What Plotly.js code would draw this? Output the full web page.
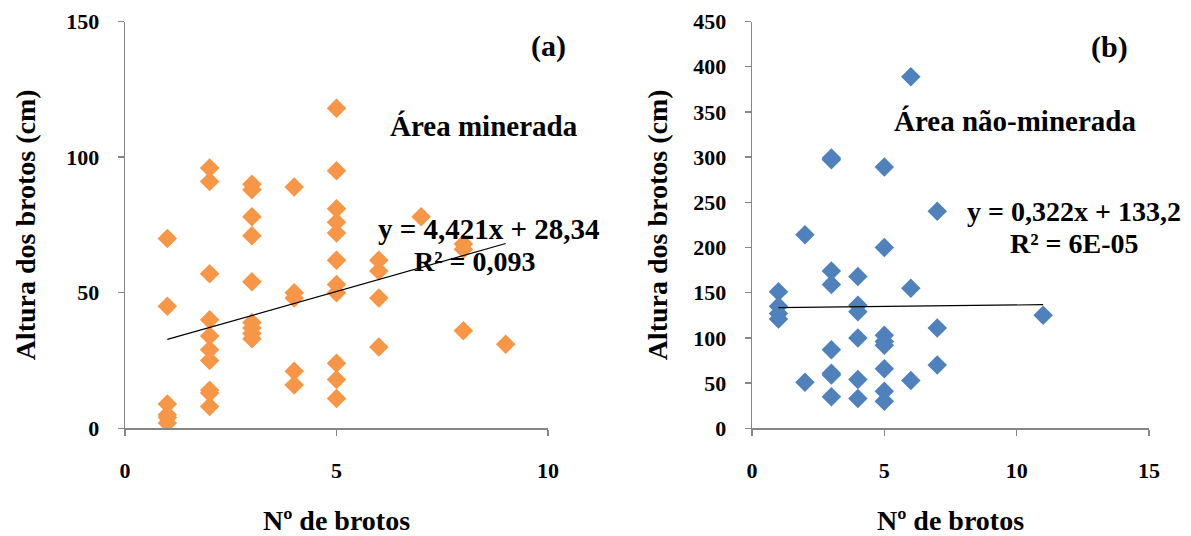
<!DOCTYPE html>
<html>
<head>
<meta charset="utf-8">
<script src="https://cdn.plot.ly/plotly-3.0.1.min.js"></script>
<style>html,body{margin:0;padding:0;background:#fff;}#chart{width:1191px;height:536px;}</style>
</head>
<body>
<div id="chart"></div>
<script>
// Panel (a) – Área minerada
const xA = [1,1,1,1,1,1,
  2,2,2,2,2,2,2,2,2,2,
  3,3,3,3,3,3,3,3,3,
  4,4,4,4,4,
  5,5,5,5,5,5,5,5,5,5,5,
  6,6,6,6,
  7,
  8,8,8,
  9];
const yA = [70,45,9,5,4,2,
  96,91,57,40,34,29,25,14,13,8,
  90,88,78,71,54,39,37,35,33,
  89,50,48,21,16,
  118,95,81,76,72,62,53,50,24,18,11,
  62,58,48,30,
  78,
  68,66,36,
  31];
const slopeA = 4.421, interceptA = 28.34;

// Panel (b) – Área não-minerada
const xB = [1,1,1,1,
  2,2,
  3,3,3,3,3,3,3,3,
  4,4,4,4,4,4,
  5,5,5,5,5,5,5,5,
  6,6,6,
  7,7,7,
  11];
const yB = [151,135,127,121,
  214,51,
  299,297,174,159,87,61,59,35,
  168,136,129,100,54,33,
  289,200,103,96,92,66,41,30,
  389,155,53,
  240,111,70,
  125];
const slopeB = 0.322, interceptB = 133.2;

const labelsA = {panel:'(a)', area:'Área minerada', eq:'y = 4,421x + 28,34', r2:'R² = 0,093'};
const labelsB = {panel:'(b)', area:'Área não-minerada', eq:'y = 0,322x + 133,2', r2:'R² = 6E-05'};
const yTitle = 'Altura dos brotos (cm)';
const xTitle = 'Nº de brotos';

function trend(xs, m, b){
  const lo = Math.min(...xs), hi = Math.max(...xs);
  return {x:[lo,hi], y:[m*lo+b, m*hi+b]};
}
const tA = trend(xA, slopeA, interceptA);
const tB = trend(xB, slopeB, interceptB);

const font = "'Liberation Serif', 'Times New Roman', serif";
const mk = c => ({symbol:'diamond', size:15, color:c, line:{width:0}});

const traces = [
  {x:xA, y:yA, type:'scatter', mode:'markers', marker:mk('#F79646'), xaxis:'x', yaxis:'y', hoverinfo:'x+y'},
  {x:tA.x, y:tA.y, type:'scatter', mode:'lines', line:{color:'#000', width:1.2}, xaxis:'x', yaxis:'y'},
  {x:xB, y:yB, type:'scatter', mode:'markers', marker:mk('#4F81BD'), xaxis:'x2', yaxis:'y2', hoverinfo:'x+y'},
  {x:tB.x, y:tB.y, type:'scatter', mode:'lines', line:{color:'#000', width:1.2}, xaxis:'x2', yaxis:'y2'}
];

const f = (s) => ({family:font, size:s, color:'#000', weight:'bold'});
const tickFont = f(22);
const titleFont = f(28);
const baseAxis = {
  showgrid:false, zeroline:false, showline:true, linecolor:'#868686', linewidth:1.3,
  ticks:'outside', ticklen:6, tickcolor:'#868686', tickwidth:1.3,
  tickfont:tickFont, fixedrange:true
};
const yDom = [(536-428.3)/536, (536-21.5)/536];

const layout = {
  width:1191, height:536,
  margin:{l:0, r:0, t:0, b:0},
  paper_bgcolor:'#fff', plot_bgcolor:'rgba(0,0,0,0)',
  showlegend:false,
  font:{family:font, color:'#000'},
  xaxis: Object.assign({}, baseAxis, {domain:[125/1191, 548/1191], range:[0,10], dtick:5, tick0:0, anchor:'y',
    ticklabelstandoff:16, title:{text:xTitle, font:titleFont, standoff:35}}),
  yaxis: Object.assign({}, baseAxis, {domain:yDom, range:[0,150], dtick:50, tick0:0, anchor:'x',
    ticklabelstandoff:14, title:{text:yTitle, font:titleFont, standoff:22}}),
  xaxis2: Object.assign({}, baseAxis, {domain:[752/1191, 1149/1191], range:[0,15], dtick:5, tick0:0, anchor:'y2',
    ticklabelstandoff:16, title:{text:xTitle, font:titleFont, standoff:35}}),
  yaxis2: Object.assign({}, baseAxis, {domain:yDom, range:[0,450], dtick:50, tick0:0, anchor:'x2',
    ticklabelstandoff:14, title:{text:yTitle, font:titleFont, standoff:17}}),
  annotations:[
    {xref:'x', yref:'y', x:10, y:141, text:labelsA.panel, showarrow:false, xanchor:'center', yanchor:'middle', font:f(30)},
    {xref:'x', yref:'y', x:8.48, y:111.3, text:labelsA.area, showarrow:false, xanchor:'center', yanchor:'middle', font:f(29)},
    {xref:'x', yref:'y', x:8.6, y:73.4, text:labelsA.eq, showarrow:false, xanchor:'center', yanchor:'middle', font:f(29)},
    {xref:'x', yref:'y', x:8.27, y:61.5, text:labelsA.r2, showarrow:false, xanchor:'center', yanchor:'middle', font:f(28)},
    {xref:'x2', yref:'y2', x:13.52, y:422, text:labelsB.panel, showarrow:false, xanchor:'center', yanchor:'middle', font:f(30)},
    {xref:'x2', yref:'y2', x:9.94, y:340, text:labelsB.area, showarrow:false, xanchor:'center', yanchor:'middle', font:f(29)},
    {xref:'x2', yref:'y2', x:12.17, y:239.4, text:labelsB.eq, showarrow:false, xanchor:'center', yanchor:'middle', font:f(28)},
    {xref:'x2', yref:'y2', x:12.2, y:204, text:labelsB.r2, showarrow:false, xanchor:'center', yanchor:'middle', font:f(28)}
  ]
};

Plotly.newPlot('chart', traces, layout, {displayModeBar:false, staticPlot:true});
</script>
</body>
</html>
